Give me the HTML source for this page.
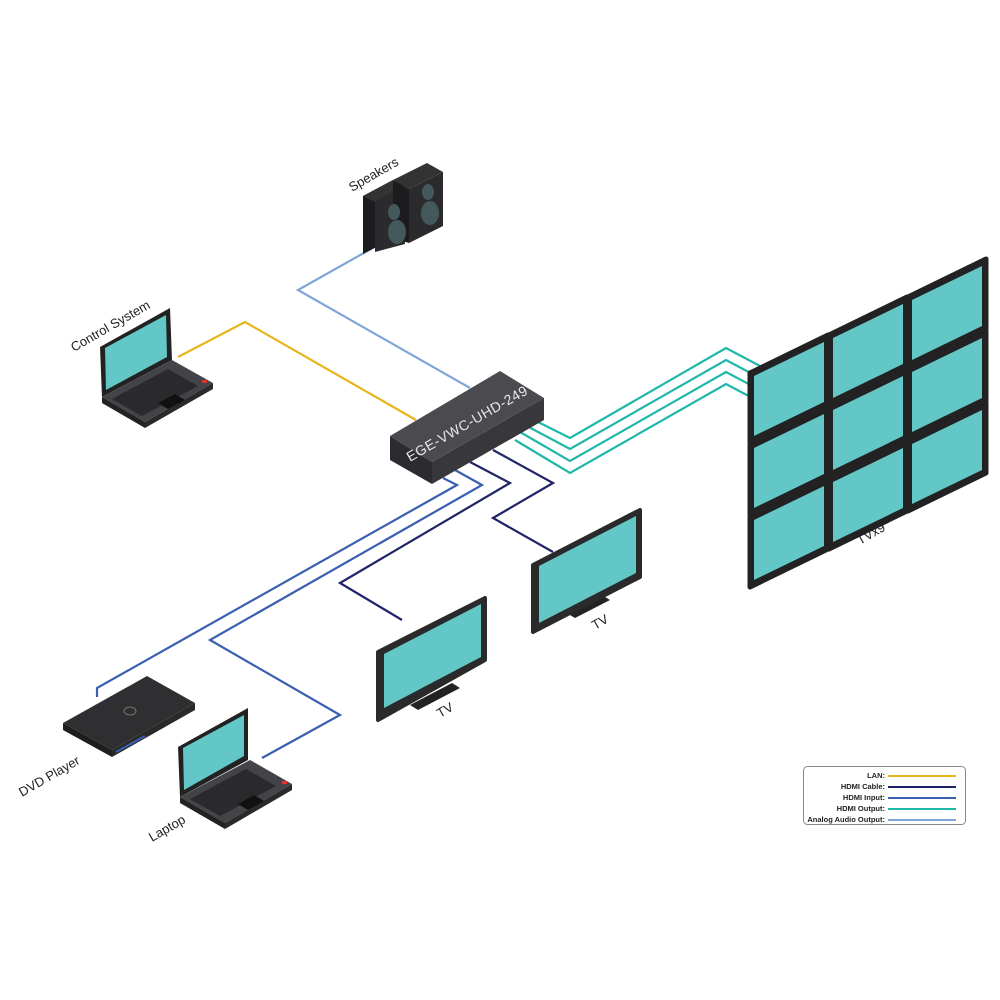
<!DOCTYPE html>
<html><head><meta charset="utf-8"><style>
html,body{margin:0;padding:0;background:#fff;}
svg{display:block}
text{font-family:"Liberation Sans",sans-serif;}
</style></head><body>
<svg width="1000" height="1000" viewBox="0 0 1000 1000" xmlns="http://www.w3.org/2000/svg">
<defs>
<g id="tvw">
  <polygon points="0,0 78,-38 78,32 0,70" fill="#222" stroke="#222" stroke-width="5" stroke-linejoin="round"/>
  <polygon points="4,3 74,-31 74,29 4,63" fill="#62c7c6"/>
</g>
</defs>
<g fill="none" stroke-width="2.2" stroke-linejoin="miter">
  <!-- speaker line -->
  <polyline points="378,245 298,290 470,388" stroke="#7fa6d8"/>
  <!-- LAN -->
  <polyline points="178,357 245,322 416,420" stroke="#e9b51c"/>
  <!-- HDMI output -->
  <polyline points="530,418 570,438 726,348 760,366" stroke="#1fb8a8"/>
  <polyline points="525,425 570,449 726,360 760,378" stroke="#1fb8a8"/>
  <polyline points="520,432 570,461 726,372 760,390" stroke="#1fb8a8"/>
  <polyline points="515,440 570,473 726,384 760,402" stroke="#1fb8a8"/>
  <!-- HDMI input -->
  <polyline points="443,478 457,485 97,688 97,697" stroke="#3a5fb0"/>
  <polyline points="455,470 482,485 210,640 340,715 262,758" stroke="#3a5fb0"/>
  <!-- HDMI cable -->
  <polyline points="470,462 510,483 340,583 402,620" stroke="#1f2468"/>
  <polyline points="493,450 553,483 493,518 553,552" stroke="#1f2468"/>
</g>

<!-- Box -->
<polygon points="390,436 432,462 432,484 390,460" fill="#2c2c30"/>
<polygon points="432,462 544,398 544,420 432,484" fill="#38383c"/>
<polygon points="390,436 500,371 544,398 432,462" fill="#4a4a4f"/>
<text x="0" y="0" transform="translate(410,462) rotate(-30)" font-size="14" fill="#e8e8e8" letter-spacing="0.5">EGE-VWC-UHD-249</text>

<!-- Speakers -->
<polygon points="363,196 393,180 393,238 363,254" fill="#1c1c1e"/>
<polygon points="363,196 393,180 405,186 375,202" fill="#333"/>
<polygon points="375,202 405,186 405,244 375,252" fill="#2b2b2e"/>
<polygon points="393,180 427,163 443,172 409,189" fill="#333"/>
<polygon points="409,189 443,172 443,226 409,243" fill="#2b2b2e"/>
<polygon points="393,180 409,189 409,243 393,238" fill="#1c1c1e"/>
<ellipse cx="394" cy="212" rx="6" ry="8" fill="#44595c"/>
<ellipse cx="397" cy="232" rx="9" ry="12" fill="#44595c"/>
<ellipse cx="428" cy="192" rx="6" ry="8" fill="#44595c"/>
<ellipse cx="430" cy="213" rx="9" ry="12" fill="#44595c"/>
<text transform="translate(352,192) rotate(-30)" font-size="13" fill="#222">Speakers</text>

<!-- Control system laptop -->
<polygon points="100,347 170,308 172,360 102,397" fill="#222"/>
<polygon points="105,348 166,315 167,357 106,390" fill="#62c7c6"/>
<polygon points="102,397 172,360 213,383 145,422" fill="#444448"/>
<polygon points="102,397 145,422 145,428 102,403" fill="#222"/>
<polygon points="145,422 213,383 213,389 145,428" fill="#2a2a2a"/>
<polygon points="112,399 168,369 198,386 142,416" fill="#2a2a2c"/>
<polygon points="158,403 175,394 185,400 168,409" fill="#111"/>
<rect x="202" y="380" width="5" height="3" fill="#d33"/>
<text transform="translate(74,352) rotate(-30)" font-size="13" fill="#222">Control System</text>

<!-- TV wall -->
<use href="#tvw" transform="translate(750,373)"/>
<use href="#tvw" transform="translate(750,445)"/>
<use href="#tvw" transform="translate(750,517)"/>
<use href="#tvw" transform="translate(829,335)"/>
<use href="#tvw" transform="translate(829,407)"/>
<use href="#tvw" transform="translate(829,479)"/>
<use href="#tvw" transform="translate(908,297)"/>
<use href="#tvw" transform="translate(908,369)"/>
<use href="#tvw" transform="translate(908,441)"/>
<text transform="translate(860,545) rotate(-30)" font-size="13" fill="#222">TVx9</text>

<!-- TV2 -->
<polygon points="565,612 600,594 610,600 575,618" fill="#222"/>
<polygon points="533,565 640,510 640,577 533,632" fill="#2a2a2a" stroke="#2a2a2a" stroke-width="4" stroke-linejoin="round"/>
<polygon points="539,566 636,516 636,573 539,623" fill="#62c7c6"/>
<text transform="translate(595,630) rotate(-30)" font-size="13" fill="#222">TV</text>

<!-- TV1 -->
<polygon points="410,705 452,683 460,688 418,710" fill="#222"/>
<polygon points="378,652 485,598 485,660 378,720" fill="#2a2a2a" stroke="#2a2a2a" stroke-width="4" stroke-linejoin="round"/>
<polygon points="384,654 481,604 481,657 384,708" fill="#62c7c6"/>
<text transform="translate(440,718) rotate(-30)" font-size="13" fill="#222">TV</text>

<!-- DVD player -->
<polygon points="63,723 112,750 112,757 63,730" fill="#1e1e1e"/>
<polygon points="112,750 195,703 195,710 112,757" fill="#2a2a2a"/>
<polygon points="63,723 147,676 195,703 112,750" fill="#2f2f31"/>
<ellipse cx="130" cy="711" rx="6" ry="4" fill="none" stroke="#777" stroke-width="1"/>
<line x1="116" y1="752" x2="145" y2="736" stroke="#3a5fb0" stroke-width="2"/>
<text transform="translate(22,797) rotate(-30)" font-size="13" fill="#222">DVD Player</text>

<!-- Laptop -->
<polygon points="178,747 248,708 248,760 180,797" fill="#222"/>
<polygon points="183,748 244,715 244,756 184,790" fill="#62c7c6"/>
<polygon points="180,797 250,760 292,784 225,823" fill="#444448"/>
<polygon points="180,797 225,823 225,829 180,803" fill="#222"/>
<polygon points="225,823 292,784 292,790 225,829" fill="#2a2a2a"/>
<polygon points="190,799 246,769 276,786 220,816" fill="#2a2a2c"/>
<polygon points="238,804 254,795 264,801 248,810" fill="#111"/>
<rect x="282" y="781" width="5" height="3" fill="#d33"/>
<text transform="translate(152,842) rotate(-30)" font-size="13" fill="#222">Laptop</text>

<!-- Legend -->
<rect x="803.5" y="766.5" width="162" height="58" rx="4" fill="#fff" stroke="#888" stroke-width="1"/>
<g font-size="7.5" fill="#222" text-anchor="end" font-weight="bold">
<text x="885" y="778">LAN:</text>
<text x="885" y="789">HDMI Cable:</text>
<text x="885" y="800">HDMI Input:</text>
<text x="885" y="811">HDMI Output:</text>
<text x="885" y="822">Analog Audio Output:</text>
</g>
<g stroke-width="2">
<line x1="888" y1="776" x2="956" y2="776" stroke="#e9b51c"/>
<line x1="888" y1="787" x2="956" y2="787" stroke="#1f2468"/>
<line x1="888" y1="798" x2="956" y2="798" stroke="#3a5fb0"/>
<line x1="888" y1="809" x2="956" y2="809" stroke="#1fb8a8"/>
<line x1="888" y1="820" x2="956" y2="820" stroke="#7fa6d8"/>
</g>
</svg>
</body></html>
